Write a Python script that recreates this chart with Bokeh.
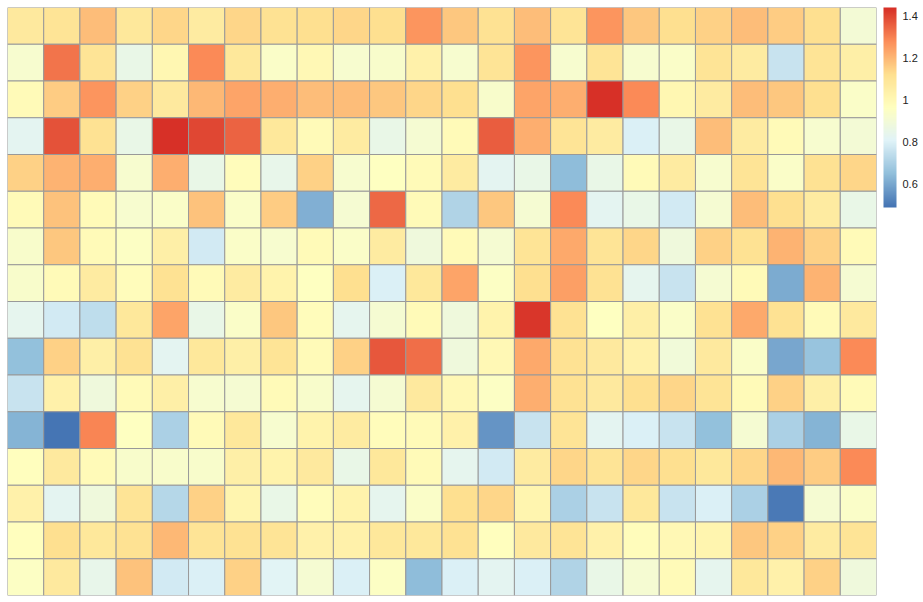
import numpy as np
from bokeh.plotting import figure
from bokeh.models import (ColumnDataSource, LinearColorMapper, ColorBar, FixedTicker,
                          CustomJSTickFormatter, Range1d)
from bokeh.embed import file_html
from bokeh.resources import INLINE

# ---- data: 16 rows (top to bottom) x 24 columns (left to right) ----
row_01 = [1.07, 1.10, 1.19, 1.08, 1.14, 1.06, 1.14, 1.11, 1.12, 1.14, 1.12, 1.26, 1.17, 1.11, 1.19, 1.10, 1.26, 1.17, 1.12, 1.15, 1.19, 1.16, 1.12, 0.90]
row_02 = [0.92, 1.32, 1.10, 0.86, 1.01, 1.28, 1.08, 0.94, 1.00, 0.92, 0.93, 1.04, 0.92, 1.10, 1.26, 0.92, 1.10, 0.92, 0.94, 1.10, 1.06, 0.76, 1.10, 1.05]
row_03 = [0.99, 1.16, 1.26, 1.15, 1.07, 1.20, 1.24, 1.22, 1.19, 1.19, 1.17, 1.14, 1.12, 0.93, 1.24, 1.22, 1.44, 1.28, 1.01, 1.06, 1.19, 1.17, 1.12, 0.94]
row_04 = [0.83, 1.38, 1.11, 0.86, 1.44, 1.40, 1.35, 1.08, 0.99, 1.06, 0.86, 0.91, 0.99, 1.36, 1.22, 1.10, 1.06, 0.80, 0.86, 1.19, 1.06, 0.99, 0.92, 0.90]
row_05 = [1.15, 1.21, 1.22, 0.92, 1.22, 0.86, 0.98, 0.85, 1.15, 0.92, 0.96, 0.99, 1.06, 0.83, 0.86, 0.65, 0.86, 0.99, 1.06, 0.92, 1.10, 0.94, 1.11, 1.14]
row_06 = [0.99, 1.18, 0.99, 0.92, 0.94, 1.18, 0.94, 1.16, 0.62, 0.91, 1.34, 0.99, 0.71, 1.17, 0.91, 1.28, 0.83, 0.86, 0.78, 0.91, 1.19, 1.12, 1.06, 0.86]
row_07 = [0.93, 1.17, 0.99, 0.95, 1.05, 0.78, 0.94, 0.92, 0.99, 0.94, 1.06, 0.88, 0.99, 0.91, 1.10, 1.23, 1.10, 1.14, 0.88, 1.15, 1.11, 1.21, 1.15, 0.99]
row_08 = [0.93, 0.99, 1.06, 0.98, 1.11, 0.99, 1.06, 1.03, 0.96, 1.12, 0.80, 1.08, 1.24, 0.95, 1.12, 1.25, 1.11, 0.84, 0.76, 0.91, 0.99, 0.61, 1.21, 0.91]
row_09 = [0.84, 0.78, 0.74, 1.08, 1.24, 0.86, 0.94, 1.17, 0.98, 0.84, 0.91, 0.99, 0.88, 1.03, 1.43, 1.11, 0.96, 1.05, 0.94, 1.11, 1.23, 1.11, 0.99, 1.07]
row_10 = [0.66, 1.15, 1.05, 1.11, 0.83, 1.08, 1.05, 1.10, 0.99, 1.15, 1.37, 1.33, 0.88, 1.00, 1.23, 1.11, 1.07, 1.04, 0.89, 1.07, 0.94, 0.60, 0.67, 1.28]
row_11 = [0.76, 1.04, 0.88, 0.99, 1.05, 0.92, 0.91, 0.99, 0.93, 0.84, 0.91, 1.07, 1.00, 0.95, 1.22, 1.11, 1.07, 1.12, 1.14, 1.10, 0.99, 1.15, 1.05, 0.99]
row_12 = [0.63, 0.49, 1.29, 0.96, 0.70, 0.99, 1.08, 0.92, 1.03, 1.06, 0.98, 0.99, 1.04, 0.56, 0.76, 1.10, 0.83, 0.80, 0.76, 0.66, 0.91, 0.70, 0.63, 0.86]
row_13 = [0.97, 1.07, 0.99, 0.93, 0.93, 0.93, 1.05, 1.03, 1.07, 0.86, 1.08, 0.99, 0.84, 0.78, 1.06, 1.14, 1.10, 1.14, 1.12, 1.08, 1.14, 1.20, 1.16, 1.28]
row_14 = [1.04, 0.83, 0.88, 1.10, 0.72, 1.15, 1.02, 0.86, 0.98, 1.03, 0.84, 0.94, 1.12, 1.14, 1.02, 0.70, 0.76, 1.08, 0.76, 0.80, 0.70, 0.50, 0.91, 0.94]
row_15 = [0.97, 1.12, 1.08, 1.11, 1.20, 1.10, 1.11, 1.10, 1.04, 1.04, 1.08, 1.08, 1.11, 0.97, 1.07, 1.10, 1.04, 0.98, 1.00, 1.02, 1.17, 1.15, 1.06, 1.10]
row_16 = [0.95, 1.07, 0.85, 1.18, 0.78, 0.80, 1.15, 0.82, 0.91, 0.80, 0.95, 0.65, 0.80, 0.83, 0.80, 0.71, 0.86, 0.91, 0.99, 0.84, 1.08, 1.04, 1.15, 0.88]

legend_ticks = [0.6, 0.8, 1.0, 1.2, 1.4]

rows = [row_01, row_02, row_03, row_04, row_05, row_06, row_07, row_08,
        row_09, row_10, row_11, row_12, row_13, row_14, row_15, row_16]
n_rows = len(rows)
n_cols = len(rows[0])

xs, ys, vals = [], [], []
for r, row in enumerate(rows):
    for c, v in enumerate(row):
        xs.append(c + 0.5)
        ys.append(n_rows - r - 0.5)
        vals.append(v)
src = ColumnDataSource(dict(x=xs, y=ys, v=vals))

# pheatmap default palette: rev(RdYlBu, 7) interpolated to 100
anchors = ["#4575B4", "#91BFDB", "#E0F3F8", "#FFFFBF", "#FEE090", "#FC8D59", "#D73027"]
rgb = np.array([[int(h[i:i + 2], 16) for i in (1, 3, 5)] for h in anchors], dtype=float)
pos = np.linspace(0, 1, len(anchors))
t = np.linspace(0, 1, 100)
palette = []
for tt in t:
    r_ = np.interp(tt, pos, rgb[:, 0]); g_ = np.interp(tt, pos, rgb[:, 1]); b_ = np.interp(tt, pos, rgb[:, 2])
    palette.append("#%02x%02x%02x" % (int(round(r_)), int(round(g_)), int(round(b_))))

mapper = LinearColorMapper(palette=palette, low=min(vals), high=max(vals))

p = figure(width=923, height=602, output_backend="svg", toolbar_location=None,
           x_range=Range1d(0, n_cols), y_range=Range1d(0, n_rows),
           min_border_left=7, min_border_top=7, min_border_bottom=7, min_border_right=47)
p.rect(x="x", y="y", width=1, height=1, source=src,
       fill_color={"field": "v", "transform": mapper},
       line_color="#999999", line_width=1)
p.axis.visible = False
p.xgrid.visible = False
p.ygrid.visible = False
p.outline_line_color = None

cb = ColorBar(color_mapper=mapper, width=13, height=200,
              location=(7, 388), margin=0, padding=0,
              ticker=FixedTicker(ticks=legend_ticks),
              formatter=CustomJSTickFormatter(code="return String(Math.round(tick*10)/10);"),
              major_tick_line_color=None, minor_tick_line_color=None,
              bar_line_color=None, border_line_color=None,
              background_fill_alpha=0,
              label_standoff=6,
              major_label_text_font="Liberation Sans",
              major_label_text_font_size="11px",
              major_label_text_color="#222222")
p.add_layout(cb, "right")

open("out.html", "w").write(file_html(p, INLINE))
